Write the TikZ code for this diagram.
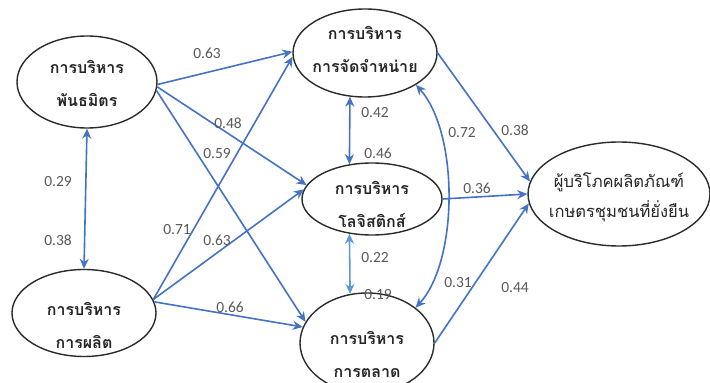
\documentclass[tikz,border=0pt]{standalone}
\usepackage{fontspec}
\newfontfamily\thaifont[Script=Thai]{Loma}
\newfontfamily\numfont{Carlito}
\usetikzlibrary{shapes.geometric,arrows.meta,calc}
\definecolor{arrblue}{HTML}{4472C4}
\definecolor{lightblue}{HTML}{5B9BD5}
\definecolor{numgray}{HTML}{595959}
\definecolor{edgegray}{HTML}{2B2B2B}
\tikzset{
  ell/.style={draw=edgegray, line width=1.4pt, ellipse, inner sep=0pt},
  ttext/.style={align=center, font=\thaifont\bfseries\fontsize{16}{33}\selectfont, text=black!85},
  num/.style={font=\numfont\fontsize{15.5}{16}\selectfont, text=numgray, inner sep=0pt},
  conn/.style={draw=arrblue, line width=1.6pt, -{Stealth[length=10pt,width=9pt]}},
  biconn/.style={draw=arrblue, line width=1.6pt, {Stealth[length=10pt,width=9pt]}-{Stealth[length=10pt,width=9pt]}}
}
\begin{document}
\begin{tikzpicture}[x=1pt,y=1pt]
\clip (0,0) rectangle (710,383);
\fill[white] (0,0) rectangle (710,383);
% ellipses
\node[ell, minimum width=140pt, minimum height=92pt] (A) at (87,301) {};
\node[ell, minimum width=144pt, minimum height=87pt] (B) at (84,70) {};
\node[ell, minimum width=144pt, minimum height=88pt] (C) at (365,330) {};
\node[ell, minimum width=140pt, minimum height=72pt] (D) at (372,184) {};
\node[ell, minimum width=134pt, minimum height=100pt] (E) at (367,40) {};
\node[ell, minimum width=182pt, minimum height=104pt] (F) at (619,189) {};
% texts
\node[ttext] (At) at (87,300) {การบริหาร\\พันธมิตร};
\node[ttext] (Bt) at (84,58) {การบริหาร\\การผลิต};
\node[ttext] (Ct) at (365,334) {การบริหาร\\การจัดจำหน่าย};
\node[ttext] (Dt) at (372,179) {การบริหาร\\โลจิสติกส์};
\node[ttext] (Et) at (367,29) {การบริหาร\\การตลาด};
\node[ttext, font=\thaifont\fontsize{16.5}{30}\selectfont] (Ft) at (619,186) {ผู้บริโภคผลิตภัณฑ์\\เกษตรชุมชนที่ยั่งยืน};
% directed paths
\draw[conn] (A.-2) -- (C.179);
\draw[conn] (A.-4) -- (D.168);
\draw[conn] (A.-7) -- (E.161);
\draw[conn] (B.11) -- (C.183);
\draw[conn] (B.11) -- (D.172);
\draw[conn] (B.9) -- (E.166);
\draw[conn] (C.east) -- (F.172);
\draw[conn] (D.east) -- (F.180);
\draw[conn] (E.east) -- (F.186);
% correlations
\draw[biconn] (A.south) -- (B.north);
\draw[biconn] (C.251) -- (D.123);
\draw[biconn, draw=lightblue] (D.237) -- (E.109);
\draw[biconn] (C.-32) .. controls ($(C.-32)+(43,-48)$) and ($(E.36)+(43,47)$) .. (E.36);
% labels
\node[num] (n1) at (207,330) {0.63};
\node[num] (n2) at (228,260) {0.48};
\node[num] (n3) at (217,229) {0.59};
\node[num] (n4) at (58,201) {0.29};
\node[num] (n5) at (58,143) {0.38};
\node[num] (n6) at (177,153) {0.71};
\node[num] (n7) at (217,143) {0.63};
\node[num] (n8) at (230,76) {0.66};
\node[num] (n9) at (375,270) {0.42};
\node[num] (n10) at (378,230) {0.46};
\node[num] (n11) at (375,125) {0.22};
\node[num] (n12) at (378,88) {0.19};
\node[num] (n13) at (462,250) {0.72};
\node[num] (n14) at (515,253) {0.38};
\node[num] (n15) at (477,195) {0.36};
\node[num] (n16) at (458,100) {0.31};
\node[num] (n17) at (515,95) {0.44};
\end{tikzpicture}
\end{document}
